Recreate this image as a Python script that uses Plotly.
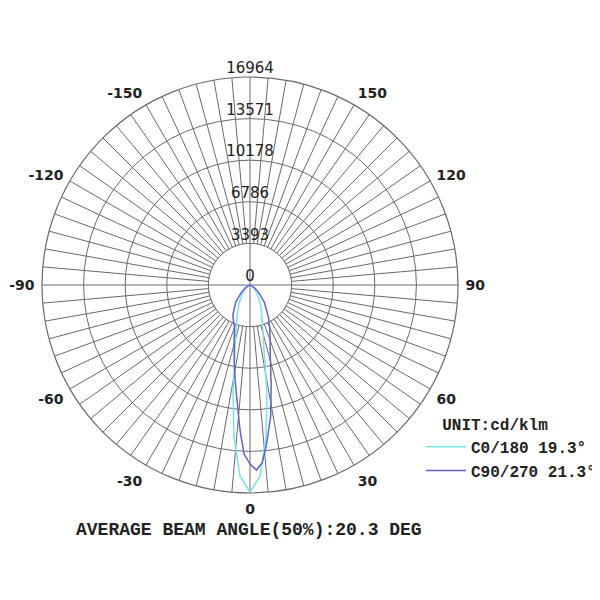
import plotly.graph_objects as go

# ---- data ----
ring_values = [3393, 6786, 10178, 13571, 16964]
ring_labels = ["3393", "6786", "10178", "13571", "16964"]
angle_ticks = list(range(0, 360, 5))
angle_label_map = {0: "0", 30: "30", 60: "60", 90: "90", 120: "120", 150: "150",
                   210: "-150", 240: "-120", 270: "-90", 300: "-60", 330: "-30"}

gamma_c0 = [-90, -75, -60, -50, -40, -30, -25, -20, -16, -12, -9, -6, -3, 0,
            3, 6, 9, 12, 16, 20, 25, 30, 40, 50, 60, 75, 90]
cd_c0 = [0, 50, 200, 500, 1000, 1800, 2400, 3200, 4300, 6000, 8800, 12500, 15600, 16900,
         15600, 12500, 8800, 5500, 3800, 2800, 2200, 1600, 900, 450, 200, 50, 0]

gamma_c90 = [-90, -75, -60, -50, -40, -30, -25, -20, -16, -12, -9, -6, -4, -2, 0,
             2, 4, 6, 9, 12, 16, 20, 25, 30, 40, 50, 60, 75, 90]
cd_c90 = [0, 100, 400, 900, 1800, 2800, 3200, 3700, 4700, 6200, 7800, 9800, 11800, 13800, 14600,
          15100, 14500, 13000, 10800, 8300, 6000, 4800, 3800, 3000, 1800, 900, 400, 100, 0]

series_names = ["C0/180 19.3°", "C90/270 21.3°"]
series_colors = ["#7ae4e4", "#6060d0"]

grid_color = "#6a6a6a"
text_color = "#222222"

# page body margin offset (px)
off = 8

fig = go.Figure()

# white mask inside the first ring (spokes start at the first ring)
mask_theta = list(range(0, 361, 2))
fig.add_trace(go.Scatterpolar(
    r=[ring_values[0]] * len(mask_theta), theta=mask_theta,
    mode="lines", fill="toself", fillcolor="white",
    line=dict(color=grid_color, width=1), showlegend=False, hoverinfo="skip"))

# cross lines through the centre
fig.add_trace(go.Scatterpolar(
    r=[ring_values[0], 0, ring_values[0]], theta=[0, 0, 180],
    mode="lines", line=dict(color=grid_color, width=1), showlegend=False, hoverinfo="skip"))
fig.add_trace(go.Scatterpolar(
    r=[ring_values[0], 0, ring_values[0]], theta=[90, 0, 270],
    mode="lines", line=dict(color=grid_color, width=1), showlegend=False, hoverinfo="skip"))

# curves
fig.add_trace(go.Scatterpolar(r=cd_c0, theta=gamma_c0, mode="lines", name=series_names[0],
                              line=dict(color=series_colors[0], width=1.5)))
fig.add_trace(go.Scatterpolar(r=cd_c90, theta=gamma_c90, mode="lines", name=series_names[1],
                              line=dict(color=series_colors[1], width=1.5)))

# radial labels along the top
fig.add_trace(go.Scatterpolar(
    r=[0] + ring_values, theta=[180] * (len(ring_values) + 1),
    mode="text", text=["0"] + ring_labels, textposition="top center",
    textfont=dict(family="DejaVu Sans", size=15, color=text_color),
    cliponaxis=False, showlegend=False, hoverinfo="skip"))

fig.update_layout(
    width=600, height=600,
    margin=dict(l=0, r=0, t=0, b=0),
    paper_bgcolor="white",
    showlegend=True,
    polar=dict(
        domain=dict(x=[(42 - off) / 600, (458 - off) / 600],
                    y=[1 - (493 - off) / 600, 1 - (77 - off) / 600]),
        bgcolor="white",
        angularaxis=dict(
            rotation=270, direction="counterclockwise",
            tickmode="array", tickvals=angle_ticks,
            ticktext=[angle_label_map.get(a, "") for a in angle_ticks],
            showgrid=True, gridcolor=grid_color, gridwidth=1,
            showline=True, linecolor=grid_color, linewidth=1.2,
            ticks="outside", ticklen=4, tickcolor="rgba(0,0,0,0)",
            tickfont=dict(family="DejaVu Sans", size=14, color=text_color, weight="bold")),
        radialaxis=dict(
            range=[0, ring_values[-1]], tickmode="array", tickvals=ring_values,
            showticklabels=False, ticks="", showline=False,
            showgrid=True, gridcolor=grid_color, gridwidth=1),
    ),
    legend=dict(
        x=413 / 600, y=1 - 401 / 600, xanchor="left", yanchor="top",
        bgcolor="rgba(0,0,0,0)",
        title=dict(text="\u00a0\u00a0UNIT:cd/klm",
                   font=dict(family="Liberation Mono", size=16, color=text_color, weight="bold")),
        font=dict(family="Liberation Mono", size=16, color=text_color, weight="bold"),
        tracegroupgap=0, itemwidth=40),
    annotations=[dict(
        text="AVERAGE BEAM ANGLE(50%):20.3 DEG", xref="paper", yref="paper",
        x=(249 - off) / 600, y=1 - (530 - off) / 600, xanchor="center", yanchor="middle",
        showarrow=False,
        font=dict(family="Liberation Mono", size=18, color=text_color, weight="bold"))],
)

fig.write_html("out.html")
